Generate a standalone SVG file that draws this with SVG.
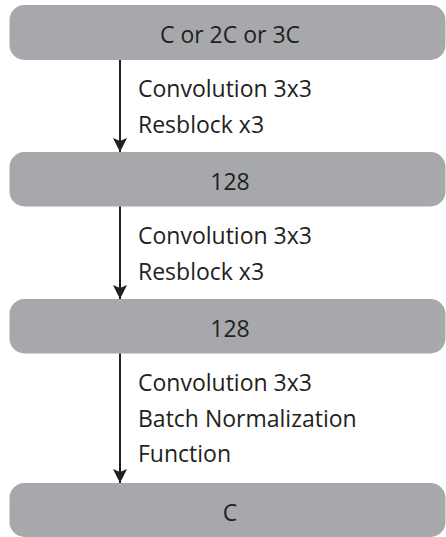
<svg xmlns="http://www.w3.org/2000/svg" width="446" height="537" viewBox="0 0 446 537">
  <style>
    .box { fill: #a7a8ab; }
    .label { font-family: "Open Sans", "Liberation Sans", sans-serif; font-size: 23px; fill: #231f20; }
    .mid { text-anchor: middle; }
    .edge { stroke: #231f20; stroke-width: 2; fill: none; }
  </style>
  <defs>
    <marker id="arrowhead" markerUnits="userSpaceOnUse" markerWidth="14" markerHeight="16" refX="14" refY="7" orient="auto">
      <path d="M0,0 L14,7 L0,14 L3,7 Z" fill="#231f20"/>
    </marker>
  </defs>

  <g id="node-input">
    <rect class="box" x="9.5" y="5" width="436" height="55" rx="15" ry="15"/>
    <text class="label mid" x="230" y="43">C or 2C or 3C</text>
  </g>
  <g id="node-hidden1">
    <rect class="box" x="9.5" y="152" width="436" height="54.5" rx="15" ry="15"/>
    <text class="label mid" x="230" y="190">128</text>
  </g>
  <g id="node-hidden2">
    <rect class="box" x="9.5" y="299" width="436" height="54.5" rx="15" ry="15"/>
    <text class="label mid" x="230" y="337">128</text>
  </g>
  <g id="node-output">
    <rect class="box" x="9.5" y="483" width="436" height="54" rx="15" ry="15"/>
    <text class="label mid" x="230" y="521">C</text>
  </g>

  <g id="connectors">
    <line class="edge" x1="120" y1="60" x2="120" y2="152" marker-end="url(#arrowhead)"/>
    <text class="label" x="138" y="97">Convolution 3x3</text>
    <text class="label" x="138" y="133">Resblock x3</text>

    <line class="edge" x1="120" y1="206.5" x2="120" y2="299" marker-end="url(#arrowhead)"/>
    <text class="label" x="138" y="244">Convolution 3x3</text>
    <text class="label" x="138" y="280">Resblock x3</text>

    <line class="edge" x1="120" y1="353.5" x2="120" y2="483" marker-end="url(#arrowhead)"/>
    <text class="label" x="138" y="391">Convolution 3x3</text>
    <text class="label" x="138" y="427">Batch Normalization</text>
    <text class="label" x="138" y="462">Function</text>
  </g>
</svg>
